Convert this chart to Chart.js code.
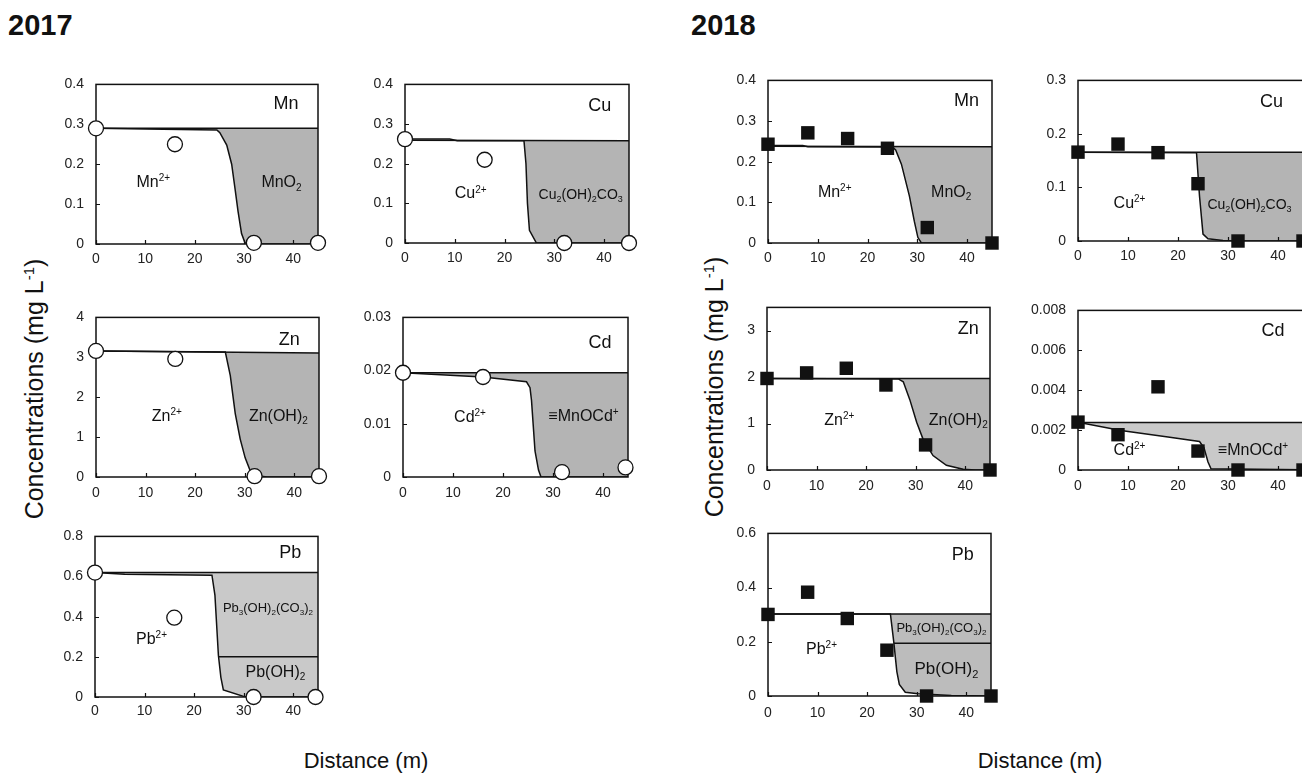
<!DOCTYPE html>
<html>
<head>
<meta charset="utf-8">
<script src="https://cdn.jsdelivr.net/npm/chart.js@4/dist/chart.umd.min.js"></script>
<style>
  html, body { margin: 0; padding: 0; background: #fff; }
  body { width: 1302px; height: 775px; overflow: hidden; position: relative;
         font-family: 'Liberation Sans', Arial, sans-serif; color: #111; }
  canvas { position: absolute; }
  .year { position: absolute; font-weight: bold; font-size: 29px; line-height: 29px; }
  .xtitle { position: absolute; font-size: 22px; line-height: 22px; white-space: nowrap; transform: translateX(-50%); }
  .ytitle { position: absolute; font-size: 25px; line-height: 25px; white-space: nowrap;
            transform: translate(-50%, -50%) rotate(-90deg); }
  .ytitle sup { font-size: 15px; vertical-align: 9px; line-height: 0; }
</style>
</head>
<body>
<div class="year" style="left:8px; top:11px;">2017</div>
<div class="year" style="left:691px; top:11px;">2018</div>
<div class="ytitle" style="left:34px; top:389px;">Concentrations (mg L<sup>-1</sup>)</div>
<div class="ytitle" style="left:714px; top:387px;">Concentrations (mg L<sup>-1</sup>)</div>
<div class="xtitle" style="left:366px; top:750px;">Distance (m)</div>
<div class="xtitle" style="left:1040px; top:750px;">Distance (m)</div>

<script>
// ---------- shared axis ticks ----------
const distanceTicks = [0, 10, 20, 30, 40];

// ---------- 2017 : measured concentrations (open circles) ----------
const mn2017Dist = [0, 16, 32, 45];
const mn2017Obs  = [0.29, 0.25, 0.003, 0.003];
const cu2017Dist = [0, 16, 32, 45];
const cu2017Obs  = [0.262, 0.21, 0.0, 0.0];
const zn2017Dist = [0, 16, 32, 45];
const zn2017Obs  = [3.16, 2.96, 0.02, 0.02];
const cd2017Dist = [0, 16, 31.8, 44.5];
const cd2017Obs  = [0.0196, 0.0188, 0.0009, 0.0018];
const pb2017Dist = [0, 16, 32, 44.5];
const pb2017Obs  = [0.62, 0.395, 0.0, 0.0];

// ---------- 2017 : total metal (upper boundary) ----------
const mn2017TotalDist = [0, 45];  const mn2017Total = [0.29, 0.29];
const cu2017TotalDist = [0, 45];  const cu2017Total = [0.259, 0.258];
const zn2017TotalDist = [0, 45];  const zn2017Total = [3.16, 3.11];
const cd2017TotalDist = [0, 45];  const cd2017Total = [0.0196, 0.0196];
const pb2017TotalDist = [0, 45];  const pb2017Total = [0.62, 0.62];

// ---------- 2017 : modelled dissolved fraction ----------
const mn2017ModelDist = [0, 10, 24.5, 25.1, 26.5, 27.5, 28.2, 28.8, 29.5, 30.2, 31, 45];
const mn2017Model     = [0.29, 0.288, 0.286, 0.279, 0.248, 0.2, 0.137, 0.081, 0.026, 0.003, 0, 0];
const cu2017ModelDist = [0, 9, 10.5, 23.9, 24.3, 24.6, 25.0, 26.4, 45];
const cu2017Model     = [0.262, 0.262, 0.258, 0.258, 0.2, 0.1, 0.032, 0, 0];
const zn2017ModelDist = [0, 26.1, 27.1, 28.1, 29.1, 30.1, 31.1, 32.1, 34.5, 45];
const zn2017Model     = [3.16, 3.13, 2.54, 1.59, 0.95, 0.48, 0.16, 0.04, 0, 0];
const cd2017ModelDist = [0, 16, 24.7, 25.4, 25.7, 26.4, 27.1, 27.6, 45];
const cd2017Model     = [0.0196, 0.0188, 0.0179, 0.0168, 0.0144, 0.0049, 0.0013, 0, 0];
const pb2017ModelDist = [0, 6, 23.6, 24.2, 24.9, 25.4, 25.9, 30, 31, 45];
const pb2017Model     = [0.62, 0.611, 0.607, 0.508, 0.208, 0.098, 0.035, 0.003, 0, 0];
// Pb(OH)2 / Pb3(OH)2(CO3)2 boundary
const pb2017SplitDist = [24.9, 45];
const pb2017Split     = [0.2, 0.2];

// ---------- 2018 : measured concentrations (filled squares) ----------
const sites2018  = [0, 8, 16, 24, 32, 45];
const mn2018Obs  = [0.243, 0.271, 0.257, 0.233, 0.038, 0.0];
const cu2018Obs  = [0.166, 0.181, 0.165, 0.107, 0.0, 0.0];
const zn2018Obs  = [1.97, 2.09, 2.19, 1.83, 0.54, 0.0];
const cd2018Obs  = [0.0024, 0.00177, 0.00417, 0.00095, 0.0, 0.0];
const pb2018Obs  = [0.301, 0.383, 0.286, 0.169, 0.0, 0.0];

// ---------- 2018 : total metal ----------
const mn2018TotalDist = [0, 45];  const mn2018Total = [0.238, 0.237];
const cu2018TotalDist = [0, 45];  const cu2018Total = [0.166, 0.166];
const zn2018TotalDist = [0, 45];  const zn2018Total = [1.97, 1.97];
const cd2018TotalDist = [0, 45];  const cd2018Total = [0.00238, 0.00238];
const pb2018TotalDist = [0, 45];  const pb2018Total = [0.303, 0.303];

// ---------- 2018 : modelled dissolved fraction ----------
const mn2018ModelDist = [0, 7, 8, 25, 25.65, 26.8, 28.4, 29.4, 30.1, 30.8, 45];
const mn2018Model     = [0.24, 0.24, 0.237, 0.236, 0.229, 0.194, 0.116, 0.053, 0.014, 0, 0];
const cu2018ModelDist = [0, 23.7, 24.3, 25.0, 26, 29, 31, 45];
const cu2018Model     = [0.166, 0.165, 0.084, 0.013, 0.004, 0.001, 0, 0];
const zn2018ModelDist = [0, 26.5, 27.5, 28.8, 30.2, 31.5, 33.5, 36.2, 39.6, 42, 45];
const zn2018Model     = [1.97, 1.96, 1.9, 1.52, 1.03, 0.66, 0.31, 0.1, 0.014, 0, 0];
const cd2018ModelDist = [0, 8.6, 18, 24.3, 25.2, 26, 26.6, 45];
const cd2018Model     = [0.0024, 0.00198, 0.00166, 0.00143, 0.00111, 0.0004, 0.00006, 0.00001];
const pb2018ModelDist = [0, 24.7, 25.4, 26.0, 26.5, 27.7, 30.3, 37, 45];
const pb2018Model     = [0.303, 0.303, 0.196, 0.09, 0.043, 0.014, 0.008, 0.002, 0];
const pb2018SplitDist = [25.4, 45];
const pb2018Split     = [0.195, 0.195];

// ---------- y axis ticks ----------
const ticksMn2017 = [0, 0.1, 0.2, 0.3, 0.4];
const ticksCu2017 = [0, 0.1, 0.2, 0.3, 0.4];
const ticksZn2017 = [0, 1, 2, 3, 4];
const ticksCd2017 = [0, 0.01, 0.02, 0.03];
const ticksPb2017 = [0, 0.2, 0.4, 0.6, 0.8];
const ticksMn2018 = [0, 0.1, 0.2, 0.3, 0.4];
const ticksCu2018 = [0, 0.1, 0.2, 0.3];
const ticksZn2018 = [0, 1, 2, 3];
const ticksCd2018 = [0, 0.002, 0.004, 0.006, 0.008];
const ticksPb2018 = [0, 0.2, 0.4, 0.6];

// ---------- helpers ----------
const FONT = "'Liberation Sans', Arial, 'DejaVu Sans', sans-serif";
const INK = '#111111';
const pts = (xs, ys) => xs.map((x, i) => ({ x: x, y: ys[i] }));

// text with _{sub} and ^{sup} segments
function parseRich(s) {
  const out = []; let buf = ''; let i = 0;
  while (i < s.length) {
    const c = s[i];
    if ((c === '^' || c === '_') && s[i + 1] === '{') {
      if (buf) { out.push({ text: buf, mode: 0 }); buf = ''; }
      const end = s.indexOf('}', i);
      out.push({ text: s.slice(i + 2, end), mode: c === '^' ? 1 : -1 });
      i = end + 1;
    } else { buf += c; i++; }
  }
  if (buf) out.push({ text: buf, mode: 0 });
  return out;
}
function drawRich(ctx, s, cx, cy, size) {
  const parts = parseRich(s);
  const small = Math.round(size * 0.62);
  let w = 0;
  parts.forEach(p => {
    ctx.font = (p.mode ? small : size) + 'px ' + FONT;
    p.w = ctx.measureText(p.text).width; w += p.w;
  });
  let x = cx - w / 2;
  const base = cy + size * 0.36;
  ctx.fillStyle = INK; ctx.textAlign = 'left'; ctx.textBaseline = 'alphabetic';
  parts.forEach(p => {
    ctx.font = (p.mode ? small : size) + 'px ' + FONT;
    const dy = p.mode === 1 ? -size * 0.36 : (p.mode === -1 ? size * 0.22 : 0);
    ctx.fillText(p.text, x, base + dy);
    x += p.w;
  });
}

// dataset indices
const IDX_MARKERS = 0, IDX_TOTAL = 1, IDX_MODEL = 2, IDX_SPLIT = 3;

// frame, inward tick marks and region labels; drawn after the shaded fill, below the markers
const framePlugin = {
  id: 'frame',
  afterDatasetDraw(chart, args) {
    if (args.index !== IDX_TOTAL) return;
    const ctx = chart.ctx, a = chart.chartArea;
    const xs = chart.scales.x, ys = chart.scales.y;
    ctx.save();
    ctx.strokeStyle = INK; ctx.lineWidth = 1.5;
    ctx.strokeRect(a.left, a.top, a.right - a.left, a.bottom - a.top);
    ctx.lineWidth = 1.2;
    ctx.beginPath();
    xs.ticks.forEach(t => {
      const px = Math.round(xs.getPixelForValue(t.value)) + 0.5;
      ctx.moveTo(px, a.bottom); ctx.lineTo(px, a.bottom - 4);
    });
    ys.ticks.forEach(t => {
      const py = Math.round(ys.getPixelForValue(t.value)) + 0.5;
      ctx.moveTo(a.left, py); ctx.lineTo(a.left + 4, py);
    });
    ctx.stroke();
    const labels = chart.options.plugins.frame.labels || [];
    labels.forEach(l => {
      drawRich(ctx, l.text, xs.getPixelForValue(l.x), ys.getPixelForValue(l.y), l.size);
    });
    ctx.restore();
  }
};

// geometry of canvas margins around each plot area
const PL = 58, PT = 12, PR = 14, PB = 32;

function makePanel(p) {
  const cv = document.createElement('canvas');
  const w = (p.rect[2] - p.rect[0]) + PL + PR;
  const h = (p.rect[3] - p.rect[1]) + PT + PB;
  cv.width = w; cv.height = h;
  cv.style.left = (p.rect[0] - PL) + 'px';
  cv.style.top = (p.rect[1] - PT) + 'px';
  cv.style.width = w + 'px'; cv.style.height = h + 'px';
  document.body.appendChild(cv);

  const marker = p.square
    ? { pointStyle: 'rect', pointRadius: 9.5, backgroundColor: '#111', borderColor: '#111', pointBorderWidth: 0 }
    : { pointStyle: 'circle', pointRadius: 7.5, backgroundColor: '#fff', borderColor: '#111', pointBorderWidth: 1.3 };

  // lower "order" is painted later (on top)
  const datasets = [];
  datasets[IDX_MARKERS] = Object.assign({ data: pts(p.obsX, p.obsY), showLine: false, clip: false, order: -2,
      pointBackgroundColor: marker.backgroundColor, pointBorderColor: marker.borderColor }, marker);
  datasets[IDX_TOTAL] = { data: pts(p.totX, p.totY), showLine: true, borderColor: INK, borderWidth: 1.5,
      pointRadius: 0, fill: false, order: 0 };
  datasets[IDX_MODEL] = { data: pts(p.modX, p.modY), showLine: true, borderColor: INK, borderWidth: 1.5,
      pointRadius: 0, tension: 0, order: 0,
      fill: { target: IDX_TOTAL, above: 'rgba(0,0,0,0)', below: p.shade } };
  datasets[IDX_SPLIT] = { data: p.splitX ? pts(p.splitX, p.splitY) : [], showLine: true, borderColor: INK,
      borderWidth: 1.5, pointRadius: 0, fill: false, order: -1 };

  const tickFont = { family: FONT, size: 14 };
  new Chart(cv, {
    type: 'scatter',
    data: { datasets: datasets },
    options: {
      responsive: false, animation: false, events: [],
      layout: { padding: { left: 0, top: PT, right: PR, bottom: 0 } },
      plugins: { legend: { display: false }, tooltip: { enabled: false },
                 frame: { labels: p.labels } },
      scales: {
        x: { type: 'linear', min: 0, max: 45,
             grid: { display: false, drawTicks: false }, border: { display: false },
             afterBuildTicks: s => { s.ticks = distanceTicks.map(v => ({ value: v })); },
             afterFit: s => { s.height = PB; },
             ticks: { font: tickFont, color: '#222', padding: p.xPad, maxRotation: 0, autoSkip: false,
                      callback: v => String(v) } },
        y: { type: 'linear', min: 0, max: p.yMax,
             grid: { display: false, drawTicks: false }, border: { display: false },
             afterBuildTicks: s => { s.ticks = p.yTicks.map(v => ({ value: v })); },
             afterFit: s => { s.width = PL; },
             ticks: { font: tickFont, color: '#222', padding: 12, autoSkip: false,
                      callback: v => String(+v.toFixed(6)) } }
      }
    },
    plugins: [framePlugin]
  });
}

const SHADE = '#b4b4b4', SHADE_LIGHT = '#c9c9c9';

const panels = [
  { rect: [96, 76, 318, 244], yMax: 0.4, yTicks: ticksMn2017, xPad: 7,
    obsX: mn2017Dist, obsY: mn2017Obs, totX: mn2017TotalDist, totY: mn2017Total,
    modX: mn2017ModelDist, modY: mn2017Model, shade: SHADE,
    labels: [ { text: 'Mn', x: 38.5, y: 0.354, size: 18 },
              { text: 'Mn^{2+}', x: 11.6, y: 0.157, size: 16 },
              { text: 'MnO_{2}', x: 37.6, y: 0.157, size: 16 } ] },
  { rect: [405, 76, 629, 243], yMax: 0.4, yTicks: ticksCu2017, xPad: 7,
    obsX: cu2017Dist, obsY: cu2017Obs, totX: cu2017TotalDist, totY: cu2017Total,
    modX: cu2017ModelDist, modY: cu2017Model, shade: SHADE,
    labels: [ { text: 'Cu', x: 39.1, y: 0.348, size: 18 },
              { text: 'Cu^{2+}', x: 13.2, y: 0.127, size: 16 },
              { text: 'Cu_{2}(OH)_{2}CO_{3}', x: 35.3, y: 0.123, size: 14 } ] },
  { rect: [96, 309, 319, 477], yMax: 4, yTicks: ticksZn2017, xPad: 8,
    obsX: zn2017Dist, obsY: zn2017Obs, totX: zn2017TotalDist, totY: zn2017Total,
    modX: zn2017ModelDist, modY: zn2017Model, shade: SHADE,
    labels: [ { text: 'Zn', x: 39.0, y: 3.48, size: 18 },
              { text: 'Zn^{2+}', x: 14.3, y: 1.55, size: 16 },
              { text: 'Zn(OH)_{2}', x: 36.8, y: 1.55, size: 16 } ] },
  { rect: [403, 309, 628, 477], yMax: 0.03, yTicks: ticksCd2017, xPad: 8,
    obsX: cd2017Dist, obsY: cd2017Obs, totX: cd2017TotalDist, totY: cd2017Total,
    modX: cd2017ModelDist, modY: cd2017Model, shade: SHADE,
    labels: [ { text: 'Cd', x: 39.4, y: 0.0254, size: 18 },
              { text: 'Cd^{2+}', x: 13.4, y: 0.0115, size: 16 },
              { text: '≡MnOCd^{+}', x: 36.1, y: 0.0117, size: 16 } ] },
  { rect: [95, 528, 318, 697], yMax: 0.8, yTicks: ticksPb2017, xPad: 6,
    obsX: pb2017Dist, obsY: pb2017Obs, totX: pb2017TotalDist, totY: pb2017Total,
    modX: pb2017ModelDist, modY: pb2017Model, shade: SHADE_LIGHT,
    splitX: pb2017SplitDist, splitY: pb2017Split,
    labels: [ { text: 'Pb', x: 39.4, y: 0.726, size: 18 },
              { text: 'Pb^{2+}', x: 11.4, y: 0.295, size: 16 },
              { text: 'Pb_{3}(OH)_{2}(CO_{3})_{2}', x: 34.9, y: 0.445, size: 13 },
              { text: 'Pb(OH)_{2}', x: 36.4, y: 0.129, size: 16 } ] },

  { rect: [768, 72, 992, 243], yMax: 0.4, yTicks: ticksMn2018, xPad: 7, square: true,
    obsX: sites2018, obsY: mn2018Obs, totX: mn2018TotalDist, totY: mn2018Total,
    modX: mn2018ModelDist, modY: mn2018Model, shade: SHADE,
    labels: [ { text: 'Mn', x: 39.9, y: 0.353, size: 18 },
              { text: 'Mn^{2+}', x: 13.4, y: 0.128, size: 16 },
              { text: 'MnO_{2}', x: 36.8, y: 0.128, size: 16 } ] },
  { rect: [1078, 72, 1303, 241], yMax: 0.3, yTicks: ticksCu2018, xPad: 7, square: true,
    obsX: sites2018, obsY: cu2018Obs, totX: cu2018TotalDist, totY: cu2018Total,
    modX: cu2018ModelDist, modY: cu2018Model, shade: SHADE,
    labels: [ { text: 'Cu', x: 38.7, y: 0.263, size: 18 },
              { text: 'Cu^{2+}', x: 10.3, y: 0.0725, size: 16 },
              { text: 'Cu_{2}(OH)_{2}CO_{3}', x: 34.3, y: 0.0695, size: 14 } ] },
  { rect: [767, 299, 990, 470], yMax: 3.5, yTicks: ticksZn2018, xPad: 8, square: true,
    obsX: sites2018, obsY: zn2018Obs, totX: zn2018TotalDist, totY: zn2018Total,
    modX: zn2018ModelDist, modY: zn2018Model, shade: SHADE,
    labels: [ { text: 'Zn', x: 40.6, y: 3.07, size: 18 },
              { text: 'Zn^{2+}', x: 14.6, y: 1.10, size: 16 },
              { text: 'Zn(OH)_{2}', x: 38.6, y: 1.10, size: 16 } ] },
  { rect: [1078, 302, 1303, 470], yMax: 0.008, yTicks: ticksCd2018, xPad: 8, square: true,
    obsX: sites2018, obsY: cd2018Obs, totX: cd2018TotalDist, totY: cd2018Total,
    modX: cd2018ModelDist, modY: cd2018Model, shade: SHADE_LIGHT,
    labels: [ { text: 'Cd', x: 39.0, y: 0.00705, size: 18 },
              { text: 'Cd^{2+}', x: 10.3, y: 0.00103, size: 16 },
              { text: '≡MnOCd^{+}', x: 35.0, y: 0.00103, size: 16 } ] },
  { rect: [768, 525, 991, 696], yMax: 0.6, yTicks: ticksPb2018, xPad: 9, square: true,
    obsX: sites2018, obsY: pb2018Obs, totX: pb2018TotalDist, totY: pb2018Total,
    modX: pb2018ModelDist, modY: pb2018Model, shade: '#bcbcbc',
    splitX: pb2018SplitDist, splitY: pb2018Split,
    labels: [ { text: 'Pb', x: 39.3, y: 0.524, size: 18 },
              { text: 'Pb^{2+}', x: 10.8, y: 0.178, size: 16 },
              { text: 'Pb_{3}(OH)_{2}(CO_{3})_{2}', x: 35.0, y: 0.254, size: 13 },
              { text: 'Pb(OH)_{2}', x: 36.0, y: 0.102, size: 17 } ] }
];

panels.forEach(makePanel);
</script>
</body>
</html>
